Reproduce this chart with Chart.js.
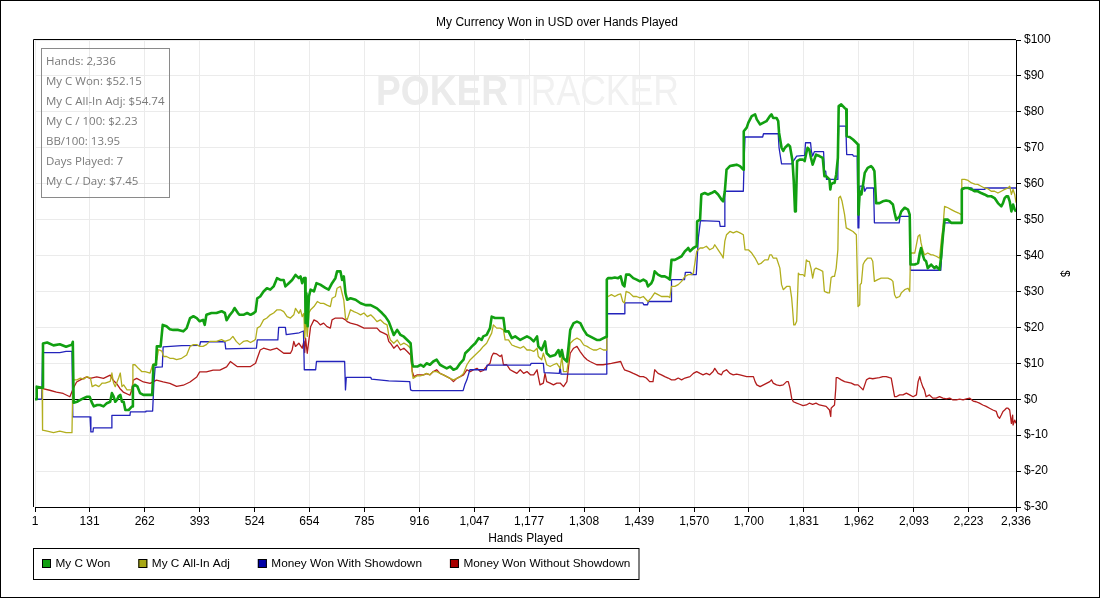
<!DOCTYPE html>
<html>
<head>
<meta charset="utf-8">
<title>My Currency Won in USD over Hands Played</title>
<script src="https://cdn.jsdelivr.net/npm/chart.js@4.4.1/dist/chart.umd.min.js"></script>
<style>
  html, body { margin: 0; padding: 0; background: #fff; }
  #wrap { width: 1100px; height: 598px; }
</style>
</head>
<body>
<div id="wrap"><canvas id="chart" width="1100" height="598"></canvas></div>
<script>
// Tick labels and texts
const chartTitle = "My Currency Won in USD over Hands Played";
const handTicks = [1, 131, 262, 393, 524, 654, 785, 916, 1047, 1177, 1308, 1439, 1570, 1700, 1831, 1962, 2093, 2223, 2336];
const statsLines = [
  "Hands: 2,336",
  "My C Won: $52.15",
  "My C All-In Adj: $54.74",
  "My C / 100: $2.23",
  "BB/100: 13.95",
  "Days Played: 7",
  "My C / Day: $7.45"
];

// My C Won (hand number, $)
const wonHands = [1,4,5,18,20,30,45,60,75,89,91,93,101,109,117,125,131,137,141,149,156,164,172,180,184,188,192,196,200,204,208,212,216,224,228,232,234,239,245,251,259,276,280,283,289,291,300,305,314,322,330,342,354,362,370,378,386,393,401,405,409,421,433,445,453,457,465,472,476,484,488,
  497,506,514,522,526,530,537,545,553,561,569,577,585,593,597,605,613,621,629,633,637,641,644,645,647,650,653,657,665,671,680,692,700,708,716,720,728,732,736,740,744,752,764,776,788,800,815,827,835,843,855,863,871,879,887,895,899,901,911,919,
  926,933,941,949,957,965,973,981,989,997,1005,1013,1021,1025,1033,1041,1049,1057,1064,1068,1076,1084,1088,1096,1108,1116,1120,1128,1136,1144,1156,1164,1172,1180,1188,1196,1199,1207,1215,1219,1227,1239,1247,1251,1255,1259,1267,1271,1275,1283,1291,1299,1307,1315,1322,1330,1338,1346,1354,1361,
  1362,1365,1373,1381,1389,1395,1400,1404,1408,1416,1425,1433,1441,1449,1456,1460,1468,1472,1476,1484,1492,1500,1508,1512,1516,1524,1532,1540,1548,1552,1556,1560,1568,1576,1577,1584,1587,1595,1603,1611,1619,1627,1635,1639,1643,1647,1655,1663,1671,1679,1687,1688,1695,1699,1707,1715,1719,1727,1735,1742,1750,1754,1758,1766,1770,1772,1778,1782,1786,1794,1798,1804,1807,1810,1812,1815,
  1821,1829,1833,1837,1840,1844,1848,1852,1856,1860,1868,1876,1880,1884,1892,1894,1896,1900,1904,1908,1912,1914,1920,1928,1932,1933,1940,1948,1956,1960,1961,1964,1968,1972,1976,1983,1991,1995,1999,2003,2011,2019,2027,2035,2043,2047,2051,2059,2063,2071,2079,2083,2085,2095,2103,2107,2110,2114,2118,2122,2126,2130,2134,2138,2142,2146,2150,2154,2158,2162,2166,2174,2182,2190,2198,2206,2207,2214,2222,2230,2238,2245,2253,2261,2269,2277,2285,2293,2301,2305,2309,2313,2317,2321,2325,2329,2333,2336];
const wonValues = [0,0,3.5,3.2,15.5,15.8,15,15.3,14.6,15.2,16,-1,-0.7,-0.2,0.3,0.7,0.7,-1.1,-2,-1.6,-1.6,-2,-1.1,-0.7,1.7,0.8,-0.7,-0.2,0.8,1.2,-0.7,-0.7,-3,-3,-2.5,-2,3.5,4,3.5,1.7,1.2,1.2,1.2,9.6,9.6,14.7,14.7,20.7,20.3,19.5,19.3,19.3,18.9,19.8,22.6,23.1,22.6,21.7,22.1,20.7,23.5,24,24,24.5,24,22,23.5,24.5,25.4,24,23.5,
  23.5,24,23.5,24,24.4,28.1,28.6,30,30.9,30.5,31.4,33.7,33.2,33.2,31.4,32.3,33.2,34.6,33.7,34.2,32.3,33.7,33.7,21.2,29.5,20.3,28.6,30.5,30,32.3,31.9,31,30.5,32.3,33.7,35.6,35.6,33.2,34.2,29.5,27.7,28.1,27.7,26.7,26.2,26.2,25.3,24,23,21.6,17.9,19.3,17.9,17.4,16.5,15.6,10,9.1,9.1,9.6,
  9.1,10,9.6,10.5,11,9.6,9.1,8.6,9.1,8.2,8.6,10,11,12.8,13.7,14.7,15.6,17,16.5,17.5,17.9,19.8,23,22.6,22.6,22.6,18.9,18.9,17,17.5,16.5,17,17.5,17,16.1,17.5,14.7,13.7,16.1,12.8,11.9,12.3,13.7,11.9,13.7,11.4,10.5,14.7,19.3,21.2,21.6,21.2,19.3,17.9,17.5,17,16.5,16.5,17,17.4,
  33.3,33.7,33.7,33.9,33.7,34.2,31.9,31.4,34.7,34.7,33.7,33.3,32.8,33.3,32.8,31.4,32.3,33.3,35.6,34.7,34.2,34.2,33.7,33.3,38.8,38.8,39.3,39.8,41.2,41.6,42.1,41.2,42.1,42.6,49.5,50,57,57.4,57,57.4,57.9,57,55.6,55.1,57.9,63.9,64.9,65.1,65.3,64.9,63.9,74.6,75.6,77,78.8,79.3,77.9,76.5,77,77.4,78.8,79.3,78.3,78.3,77.4,74.2,70,69.1,70,70.9,70.4,66.3,60.7,52.3,53.3,66.3,
  66.7,66.7,66.3,68.6,70,69.5,67.2,65.3,66.7,68.1,67.7,67.2,62.1,62.1,61.2,58.4,59.8,60.2,60.2,62.5,67.2,81.6,82.1,81.1,80.7,73.2,73,72.3,71.4,70.9,51.4,57.9,57,59.8,63,64.4,64.9,64.4,63.5,54.6,54.6,55.1,55.3,55.1,54.2,51.9,50,50.9,52.3,53.3,52.8,51.4,37.5,37.5,37.9,40.7,42.1,40.2,38.8,38.4,36.5,37,37.5,37,36.5,37,36.5,36.1,39.8,45.4,50,50,49.1,49.1,49.1,49.1,58.4,58.8,58.8,58.4,57.9,57.9,57.4,57,56.5,56.5,56,54.6,53.7,54.6,56,56.5,56.5,55.1,52.3,54.2,52.8,52.2];

// My C All-In Adj
const adjHands = [1,4,5,18,19,30,45,60,75,89,91,93,101,109,117,125,133,137,145,153,161,168,180,184,188,192,200,204,208,212,220,228,232,234,239,247,255,263,275,281,287,291,295,303,307,314,322,330,338,350,362,370,378,386,393,401,409,417,433,445,453,465,472,480,488,
  497,506,514,522,526,530,537,545,553,561,569,577,585,593,601,609,617,621,629,633,637,641,643,646,649,653,657,665,673,680,688,696,704,708,716,720,728,732,736,740,744,752,760,768,776,784,792,800,808,815,823,831,839,843,847,855,863,871,879,887,895,899,901,
  910,918,926,933,941,949,957,965,973,981,989,997,1005,1013,1021,1029,1037,1045,1053,1061,1068,1076,1084,1088,1092,1100,1108,1116,1120,1128,1136,1144,1156,1164,1172,1180,1188,1196,1199,1207,1211,1219,1227,1235,1243,1251,1255,1259,1267,1271,1275,1283,1291,1299,1307,1315,1322,1330,1338,1346,1354,1361,
  1362,1365,1373,1381,1389,1395,1400,1404,1408,1416,1425,1433,1441,1449,1456,1460,1468,1476,1484,1492,1500,1508,1512,1516,1524,1532,1540,1548,1556,1564,1568,1576,1584,1591,1599,1607,1615,1619,1627,1635,1639,1643,1647,1655,1663,1671,1679,1687,1691,1699,1707,1715,1723,1730,1738,1746,1750,1754,1758,1766,1774,1778,1782,1790,1798,1802,1804,1807,1810,1814,1818,
  1821,1829,1833,1837,1840,1844,1848,1852,1856,1860,1868,1876,1880,1888,1892,1896,1900,1904,1908,1912,1914,1918,1922,1928,1932,1940,1948,1956,1960,1964,1965,1968,1972,1976,1983,1991,1995,1999,2007,2015,2023,2031,2039,2043,2047,2051,2059,2063,2071,2079,2083,2085,2095,2103,2107,2110,2114,2118,2126,2134,2138,2146,2154,2158,2162,2166,2174,2182,2190,2198,2206,2207,2214,2222,2230,2238,2245,2253,2261,2269,2277,2285,2293,2301,2309,2317,2321,2325,2329,2333,2336];
const adjValues = [0,0,3.5,3.2,-8.6,-8.9,-9.3,-8.9,-9.3,-9.3,4,5.4,5.4,5.9,5.6,6.3,5.9,3.5,4,3.5,4.5,4.5,5,7.3,4.5,3.5,5.9,7.3,3.5,4,2.6,2.6,2.6,9.6,9.6,8.6,7.7,7.7,7.3,9.6,10,11,13.8,13.4,11.9,11.9,11.4,11.4,11,11.4,12.3,14.7,15.2,15.2,14.7,14.7,15.2,16.1,16.1,16.6,16.1,16.6,17.5,16.1,15.2,
  16.1,16.3,15.8,16.3,16.7,19.8,20.3,22.1,22.6,23.5,24,24.9,24.9,24.4,23,22.6,23.5,25.3,23.9,24.9,23,23.9,17,23,17.5,24,24.9,25.8,27.2,26.7,26.7,26.2,25.8,28.1,28.6,30.9,31.4,29.5,27.6,22.6,22.1,24.9,24.4,24,23.5,24,23,23.5,22.6,21.6,22.1,21.2,20.7,17.9,16.5,15.6,16.5,15.1,15.6,15.1,14.2,7.2,5.8,
  6.5,6.5,6.8,7.2,6.8,7.7,7.7,7.2,6.8,6.3,5.8,5.4,5.8,6.3,7.2,9.6,11,11.9,12.8,13.7,14.7,15.6,17.5,18.4,20.7,19.8,19.8,19.3,16.5,16.5,15.1,14.7,14.2,14.7,13.7,13.7,13.3,14.2,11.9,11,12.8,9.6,9.1,9.6,10,8.6,11.9,7.7,7.7,11,15.6,16.5,17,16.5,15.1,14.7,14.2,13.7,13.7,14.2,13.7,13.7,
  28.6,28.6,29.1,28.6,29.1,29.3,27.2,26.8,30,29.6,28.6,28.6,28.2,28.6,27.7,27.2,28.2,29.6,29.1,28.6,28.6,28.6,28.3,31.4,31.4,31.9,32.8,34.2,34.7,34.7,35.1,41.2,42.1,42.1,42.6,41.6,42.1,43,41.6,40.2,39.3,44,45.8,46.7,46.3,46.7,46.3,45.8,41.6,41.6,40.7,39.3,37.5,37.9,38.8,38.8,40.2,40.2,39.3,39.3,36.5,31.9,30.5,31.4,31.4,28.2,25.4,20.7,20.7,21.7,35.1,
  34.7,34.7,34.2,38.8,38.4,38.4,36.5,33.7,36.1,36.5,36.1,35.6,30,29.6,29.6,33.9,34.2,34.2,36.5,41.6,56,56.5,55.1,51.4,47.7,47.2,46.7,45.8,25.8,26.3,31.9,32.3,37.5,38.4,39.3,39.3,38.4,32.8,33.3,33.7,33.7,33.7,33.3,32.8,29.1,28.2,28.6,29.6,30.5,30.9,30,40.7,40.7,45.4,45.8,43.5,41.6,40.2,40.7,40.2,40.2,39.8,39.3,44,47.7,53.7,53.3,52.8,52.3,51.9,51.4,61.2,61.2,60.9,60.2,59.9,59.8,59.3,58.8,58.6,57.9,57.9,57.4,57.9,58.4,58.8,59.3,57,58.4,57,54.7];

// Money Won With Showdown
const sdHands = [1,17,19,60,75,89,91,132,134,139,140,183,184,227,228,263,265,281,284,287,304,306,350,393,395,453,455,528,530,579,581,597,599,630,640,642,669,671,738,740,742,800,802,843,893,895,899,1020,1024,1029,1036,1075,1077,1180,1182,1211,1213,1249,1251,1253,1361,1362,1404,1405,1448,1450,1459,1461,1515,1516,1547,1549,1562,1564,1575,1580,1585,1630,1632,1641,1643,1687,1689,1691,1733,1735,1770,1772,1778,1802,1806,1814,1833,1835,1847,1849,1852,1856,1878,1880,1883,1885,1911,1912,1914,1931,1933,1947,1949,1958,1960,1962,1964,1974,1976,1980,1997,1999,2058,2060,2083,2085,2157,2159,2162,2166,2206,2207,2229,2231,2260,2262,2336];
const sdValues = [0,0,13,13,13.3,13.3,-4.9,-4.9,-9.1,-9.1,-8,-8,-4.5,-4.5,-3.5,-3.5,-3.3,-3.3,4.5,8.9,9,14.6,14.9,15,16,16,14,14.2,16.5,16.5,20,20,18,18.5,19,8.2,8.2,10.5,10.5,2.6,6.1,6.1,5.6,5.1,4.9,2.6,2.4,2.4,4,5.4,8.2,8.2,9.5,9.5,10,10,7.4,7.2,9.1,7,7,23.8,23.8,26.8,26.8,26.3,26.3,27.2,27.2,33.3,33.3,35.3,35.3,34.7,34.7,45,49.7,49.5,48.1,48.1,57.9,57.9,67.2,73,73,73.9,73.9,70,65.5,65.5,66.3,67.7,67.9,71.4,71.4,69,67.7,68.9,68.9,63.5,63.5,61.2,61.2,67.2,76,76,68.1,68.1,67.7,67.7,47.7,48.1,59.3,59.3,57.9,58.8,58.8,49.1,49.1,50.9,50.9,35.9,35.9,39.8,45.4,49.1,49.1,58.8,58.8,58.4,58.4,58.8,58.8];

// Money Won Without Showdown
const nsdHands = [1,4,5,17,36,52,68,84,92,100,108,124,132,148,164,180,187,195,203,211,227,231,235,243,259,275,290,306,322,338,354,370,386,393,409,425,441,457,466,482,498,514,526,530,537,545,561,577,593,609,613,617,621,629,637,641,643,645,649,657,665,673,680,688,696,704,708,716,724,732,740,744,752,768,784,800,815,823,831,839,843,847,855,863,871,879,887,895,899,903,911,919,926,933,941,949,957,965,973,981,989,997,1005,1013,1021,1029,1037,1045,1053,1061,1068,1076,1084,1088,1092,1100,1108,1112,1116,1124,1132,1140,1148,1156,1164,1172,1180,1188,1196,1199,1203,1211,1215,1219,1227,1235,1243,1251,1259,1267,1271,1275,1283,1291,1299,1307,1315,1322,1338,1353,1373,1395,1400,1404,1416,1425,1433,1441,1449,1456,1464,1472,1476,1484,1492,1500,1508,1516,1524,1532,1540,1548,1560,1568,1576,1584,1591,1599,1607,1615,1619,1627,1635,1639,1647,1655,1663,1671,1679,1695,1711,1715,1719,1727,1735,1750,1754,1758,1766,1774,1782,1790,1794,1798,1802,1806,1814,1821,1829,1837,1844,1852,1860,1868,1876,1884,1892,1895,1896,1900,1904,1907,1908,1912,1920,1928,1936,1944,1952,1960,1968,1972,1980,1987,1995,2003,2011,2019,2027,2035,2039,2047,2051,2059,2067,2075,2083,2091,2099,2103,2107,2110,2114,2118,2122,2130,2138,2146,2154,2162,2170,2178,2186,2194,2202,2210,2218,2226,2234,2241,2249,2257,2265,2273,2281,2289,2293,2297,2301,2305,2309,2313,2317,2321,2325,2328,2329,2333,2336];
const nsdValues = [0,0,3,3,2.5,2,1.6,0.7,3,4.8,5.3,6.2,5.8,6.2,5.8,6.7,5.3,4.4,3,2,1.1,2.5,5.3,5.8,4.8,4.4,5.3,4.8,4.4,3.6,3.9,4.8,6.2,7.6,7.6,8.1,8.1,9,10.5,9.1,9.1,9.1,10,11.4,13.7,14.2,13.7,14.2,12.8,12.8,13.7,16.1,14.7,15.6,14.2,16.1,13,17,12.8,20.2,22.1,21.6,20.7,21.2,20.2,19.8,22.1,22.6,22.6,22.6,22.1,21.6,21.2,20.7,19.8,19.8,19.8,18.8,18.4,17.9,16.1,15.6,14.2,15.1,13.7,14.2,13.3,12.3,7.7,6.3,6.8,6.8,6.8,7.1,6.8,7.7,8.2,7.2,6.8,6.3,5.8,4.9,5.8,6.3,6.8,8.2,7.7,8.2,8.6,7.7,8,9.1,10,11.9,12.8,12.6,11.9,12.3,9.6,9.6,8.2,7.7,7.2,8.2,7.2,7.7,6.8,6.8,8.2,6.3,4,4.5,7.2,4.9,4.5,4,4.5,4.5,3.5,4.9,9.1,12.8,14.2,14.7,13.2,11.9,11,10.5,9.6,9.6,10,10.5,9.1,8.2,7.7,7.2,6.8,6.3,6.3,5.9,4.9,4.9,8.2,7.2,6.8,6.3,5.9,5.4,5.4,5.9,5.4,5.9,6.3,7.2,7.7,7.2,6.8,7.2,6.8,7.7,8.6,7.2,6.8,7.7,8.2,7.2,6.8,7,6.8,6.3,6.3,4.9,4,3.5,4,4.9,5.4,4.5,4,3.8,4,4.9,4.9,3.1,0.3,-0.7,-1.1,-1.4,-1.8,-1.6,-1.1,-1.4,-1.1,-1.6,-1.8,-2,-3,-4.8,-2.5,-2,-1.6,3,6,6,5.4,4.9,4.7,4.5,4,4,3.1,2.6,5.4,5.9,5.7,5.9,6,6.3,6.3,6,5.9,0.7,0.7,1.2,1.2,1.7,1.2,0.7,1.2,4.9,6.3,4.9,3.5,2.6,0.7,1.2,0.3,0.3,0.7,0.3,0.1,0.3,-0.2,-0.2,0,-0.2,0.1,0.3,-0.5,-0.7,-1.1,-1.6,-2,-2.5,-3,-3.4,-4.8,-5.3,-4.4,-3.4,-3,-2.5,-2.5,-3,-6.7,-4.4,-7.2,-5.8,-6.7];

const fontFamily = '"Liberation Sans", Arial, sans-serif';
const axisFont = { family: fontFamily, size: 12 };

function toPoints(hands, values) {
  const n = Math.min(hands.length, values.length);
  if (hands.length !== values.length) console.warn('length mismatch', hands.length, values.length);
  const pts = [];
  for (let i = 0; i < n; i++) pts.push({ x: hands[i], y: values[i] });
  return pts;
}

// watermark, title, plot frame, stats box, legend box
const decorations = {
  id: 'decorations',
  beforeDatasetsDraw(chart) {
    const { ctx, chartArea: a } = chart;
    ctx.save();
    ctx.textBaseline = 'alphabetic';
    ctx.font = 'bold 42px ' + fontFamily;
    let w = ctx.measureText('POKER').width;
    ctx.translate(a.left + 341, a.top + 65);
    ctx.save();
    ctx.scale(132 / w, 1);
    ctx.fillStyle = '#ebebeb';
    ctx.fillText('POKER', 0, 0);
    ctx.restore();
    ctx.font = '42px ' + fontFamily;
    w = ctx.measureText('TRACKER').width;
    ctx.translate(133, 0);
    ctx.scale(170 / w, 1);
    ctx.fillStyle = '#f1f1f1';
    ctx.fillText('TRACKER', 0, 0);
    ctx.restore();
  },
  afterDraw(chart) {
    const { ctx, chartArea: a } = chart;
    ctx.save();
    // title
    ctx.font = '12px ' + fontFamily;
    ctx.fillStyle = '#000';
    ctx.textAlign = 'center';
    ctx.textBaseline = 'middle';
    ctx.fillText(chartTitle, chart.width / 2 + 7, 23);
    ctx.textAlign = 'left';

    ctx.strokeStyle = '#000';
    ctx.lineWidth = 1;
    // top and left edges of the plot
    ctx.beginPath();
    ctx.moveTo(Math.round(a.left) - 1.5, a.bottom);
    ctx.lineTo(Math.round(a.left) - 1.5, Math.round(a.top) - 0.5);
    ctx.lineTo(a.right, Math.round(a.top) - 0.5);
    ctx.stroke();
    // outer frame
    ctx.strokeRect(0.5, 0.5, chart.width - 1, chart.height - 1);

    // stats box
    ctx.font = '11.5px "Open Sans", "Noto Sans", sans-serif';
    ctx.fillStyle = '#7a7a7a';
    statsLines.forEach((t, i) => ctx.fillText(t, a.left + 11, a.top + 21.5 + i * 20));
    ctx.strokeStyle = '#8a8a8a';
    ctx.strokeRect(Math.round(a.left) + 6.5, Math.round(a.top) + 8.5, 128, 149);

    // legend
    ctx.font = '11.8px ' + fontFamily;
    const y = chart.height - 35;
    let x = Math.round(a.left) + 7;
    chart.data.datasets.forEach(ds => {
      ctx.fillStyle = ds.legendColor;
      ctx.fillRect(x, y - 4, 9, 9);
      ctx.strokeStyle = '#000';
      ctx.strokeRect(x + 0.5, y - 3.5, 8, 8);
      ctx.fillStyle = '#000';
      ctx.fillText(ds.label, x + 13.5, y + 1);
      x += 13.5 + ctx.measureText(ds.label).width + 28;
    });
    const boxLeft = Math.round(a.left) - 1.5;
    ctx.strokeStyle = '#000';
    ctx.strokeRect(boxLeft, y - 14.5, Math.round(x - 28 + 9) - boxLeft, 31);
    ctx.restore();
  }
};

new Chart(document.getElementById('chart'), {
  type: 'line',
  data: {
    datasets: [
      { label: 'My C Won', data: toPoints(wonHands, wonValues), borderColor: '#11a011', borderWidth: 2.6, legendColor: '#12a012' },
      { label: 'My C All-In Adj', data: toPoints(adjHands, adjValues), borderColor: '#b2ae1e', borderWidth: 1.3, legendColor: '#a8a814' },
      { label: 'Money Won With Showdown', data: toPoints(sdHands, sdValues), borderColor: '#2323bb', borderWidth: 1.3, legendColor: '#0000a8' },
      { label: 'Money Won Without Showdown', data: toPoints(nsdHands, nsdValues), borderColor: '#b21c1c', borderWidth: 1.3, legendColor: '#a80000' }
    ]
  },
  options: {
    responsive: false,
    devicePixelRatio: 1,
    animation: false,
    parsing: false,
    layout: { padding: { left: 35, right: 0, top: 40, bottom: 53 } },
    elements: {
      point: { radius: 0, hoverRadius: 0 },
      line: { tension: 0, borderJoinStyle: 'round', fill: false }
    },
    plugins: {
      legend: { display: false },
      tooltip: { enabled: false },
      title: { display: false }
    },
    scales: {
      x: {
        type: 'linear',
        min: 1,
        max: 2336,
        afterBuildTicks: s => { s.ticks = handTicks.map(v => ({ value: v })); },
        afterFit: s => { s.height = 38; },
        ticks: {
          autoSkip: false,
          maxRotation: 0,
          padding: 2,
          color: '#000',
          font: axisFont,
          callback: v => Number(v).toLocaleString('en-US')
        },
        grid: { color: '#ebebeb', tickColor: '#000', tickLength: 5 },
        border: { color: '#000' },
        title: { display: true, text: 'Hands Played', color: '#000', font: axisFont, padding: { top: 0, bottom: -1 } }
      },
      y: {
        position: 'right',
        min: -30,
        max: 100,
        afterFit: s => { s.width = 84; },
        ticks: {
          stepSize: 10,
          padding: 3,
          color: '#000',
          font: axisFont,
          callback: v => '$' + v
        },
        grid: {
          color: c => (c.tick && c.tick.value === 0) ? '#000' : '#ebebeb',
          tickColor: '#000',
          tickLength: 5
        },
        border: { color: '#000' },
        title: { display: true, text: '$', color: '#000', font: axisFont, padding: { top: 28, bottom: 0 } }
      }
    }
  },
  plugins: [decorations]
});
</script>
</body>
</html>
